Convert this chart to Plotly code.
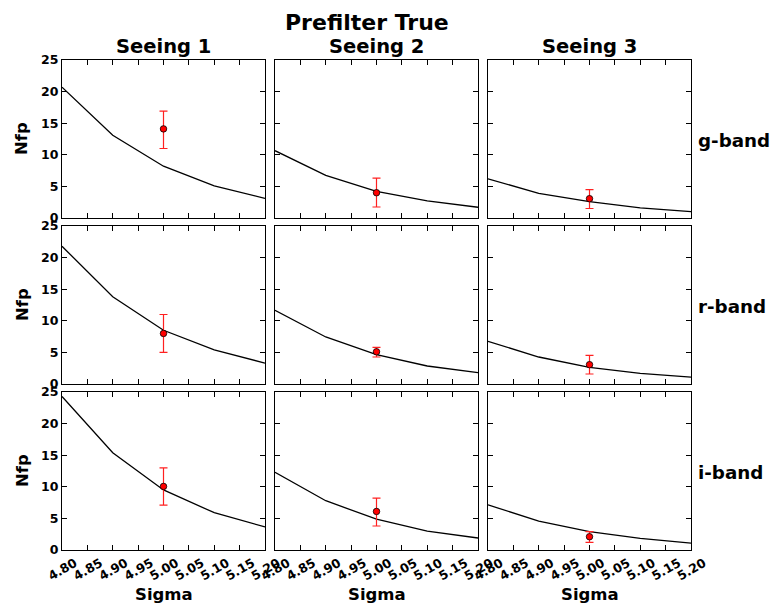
import plotly.graph_objects as go

# ---------------- data ----------------
sigma = [4.80, 4.90, 5.00, 5.10, 5.20]
bands = ["g-band", "r-band", "i-band"]
seeings = ["Seeing 1", "Seeing 2", "Seeing 3"]

# model curves (Nfp vs Sigma), row = band, col = seeing
g_curves = [[20.7, 13.1, 8.2, 5.1, 3.1],
            [10.65, 6.75, 4.2, 2.7, 1.7],
            [6.2, 3.9, 2.6, 1.6, 1.0]]
r_curves = [[21.8, 13.8, 8.5, 5.4, 3.3],
            [11.66, 7.44, 4.65, 2.85, 1.8],
            [6.75, 4.27, 2.63, 1.68, 1.1]]
i_curves = [[24.3, 15.4, 9.5, 5.9, 3.65],
            [12.3, 7.8, 4.87, 3.0, 1.9],
            [7.15, 4.55, 2.9, 1.85, 1.1]]

# measured point at sigma = 5.0 with error bar ends
meas_x = 5.0
g_meas = [14.1, 4.0, 3.06]
g_top = [16.9, 6.3, 4.5]
g_bot = [11.0, 1.74, 1.5]
r_meas = [8.0, 5.1, 3.06]
r_top = [11.0, 5.8, 4.54]
r_bot = [5.0, 4.27, 1.58]
i_meas = [10.06, 6.1, 2.1]
i_top = [12.98, 8.2, 2.9]
i_bot = [7.1, 3.8, 1.2]

x_ticks = [4.80, 4.85, 4.90, 4.95, 5.00, 5.05, 5.10, 5.15, 5.20]
x_ticklabels = ["4.80", "4.85", "4.90", "4.95", "5.00", "5.05", "5.10", "5.15", "5.20"]
y_ticks = [0, 5, 10, 15, 20, 25]

curves = [g_curves, r_curves, i_curves]
meas = [g_meas, r_meas, i_meas]
tops = [g_top, r_top, i_top]
bots = [g_bot, r_bot, i_bot]

# ---------------- layout ----------------
W, H = 771, 605
col_px = [(62, 265), (275, 478), (488, 691)]
row_px = [(60, 218), (226, 384), (392, 550)]
FONT = "DejaVu Sans"

fig = go.Figure()
layout = dict(
    template="none",
    width=W, height=H, autosize=False,
    margin=dict(l=0, r=0, t=0, b=0, pad=0),
    paper_bgcolor="white", plot_bgcolor="white",
    showlegend=False,
    font=dict(family=FONT, color="black"),
)

annotations = []
for r in range(3):
    for c in range(3):
        k = r * 3 + c + 1
        xa = "x" if k == 1 else f"x{k}"
        ya = "y" if k == 1 else f"y{k}"
        xkey = "xaxis" if k == 1 else f"xaxis{k}"
        ykey = "yaxis" if k == 1 else f"yaxis{k}"

        fig.add_trace(go.Scatter(
            x=sigma, y=curves[r][c], mode="lines",
            line=dict(color="black", width=1.3),
            xaxis=xa, yaxis=ya, hoverinfo="skip"))
        v = meas[r][c]
        fig.add_trace(go.Scatter(
            x=[meas_x], y=[v], mode="markers",
            marker=dict(color="red", size=6.5, line=dict(color="black", width=0.8)),
            error_y=dict(type="data", symmetric=False,
                         array=[tops[r][c] - v], arrayminus=[v - bots[r][c]],
                         color="#ff2020", thickness=1.2, width=4),
            xaxis=xa, yaxis=ya))

        x0, x1 = col_px[c]
        y0, y1 = row_px[r]
        layout[xkey] = dict(
            domain=[x0 / W, x1 / W], anchor=ya, range=[4.8, 5.2],
            automargin=False,
            tickmode="array", tickvals=x_ticks, ticktext=x_ticklabels,
            showticklabels=(r == 2), tickangle=-30, ticklabelshift=13,
            ticks="inside", ticklen=5, tickwidth=1, tickcolor="black",
            showline=True, linecolor="black", linewidth=1.3, mirror="ticks",
            showgrid=False, zeroline=False,
            tickfont=dict(family=FONT, size=12.5, weight="bold", color="black"),
        )
        layout[ykey] = dict(
            domain=[1 - y1 / H, 1 - y0 / H], anchor=xa, range=[0, 25],
            automargin=False,
            tickmode="array", tickvals=y_ticks,
            showticklabels=(c == 0),
            ticks="inside", ticklen=5, tickwidth=1, tickcolor="black",
            showline=True, linecolor="black", linewidth=1.3, mirror="ticks",
            showgrid=False, zeroline=False,
            tickfont=dict(family=FONT, size=12.5, weight="bold", color="black"),
        )

# super title
annotations.append(dict(text="Prefilter True", xref="paper", yref="paper",
                        x=367 / W, y=1 - 22 / H, xanchor="center", yanchor="middle",
                        showarrow=False, font=dict(size=22, weight="bold", family=FONT)))
# column titles
for c in range(3):
    x0, x1 = col_px[c]
    annotations.append(dict(text=seeings[c], xref="paper", yref="paper",
                            x=(x0 + x1) / 2 / W, y=1 - 47 / H,
                            xanchor="center", yanchor="middle", showarrow=False,
                            font=dict(size=19.5, weight="bold", family=FONT)))
    annotations.append(dict(text="Sigma", xref="paper", yref="paper",
                            x=(x0 + x1) / 2 / W, y=1 - 594 / H,
                            xanchor="center", yanchor="middle", showarrow=False,
                            font=dict(size=16.5, weight="bold", family=FONT)))
# row labels
for r in range(3):
    y0, y1 = row_px[r]
    annotations.append(dict(text=bands[r], xref="paper", yref="paper",
                            x=696 / W, y=1 - ((y0 + y1) / 2 + 1) / H,
                            xanchor="left", yanchor="middle", showarrow=False,
                            font=dict(size=18.3, weight="bold", family=FONT)))
    annotations.append(dict(text="Nfp", xref="paper", yref="paper",
                            x=22 / W, y=1 - ((y0 + y1) / 2) / H, textangle=-90,
                            xanchor="center", yanchor="middle", showarrow=False,
                            font=dict(size=16.5, weight="bold", family=FONT)))

layout["annotations"] = annotations
fig.update_layout(**layout)
fig.write_html(
    "out.html",
    config={"responsive": False, "displayModeBar": False},
    post_script="document.body.style.margin='0';document.body.style.padding='0';"
                "document.documentElement.style.overflow='hidden';",
)
